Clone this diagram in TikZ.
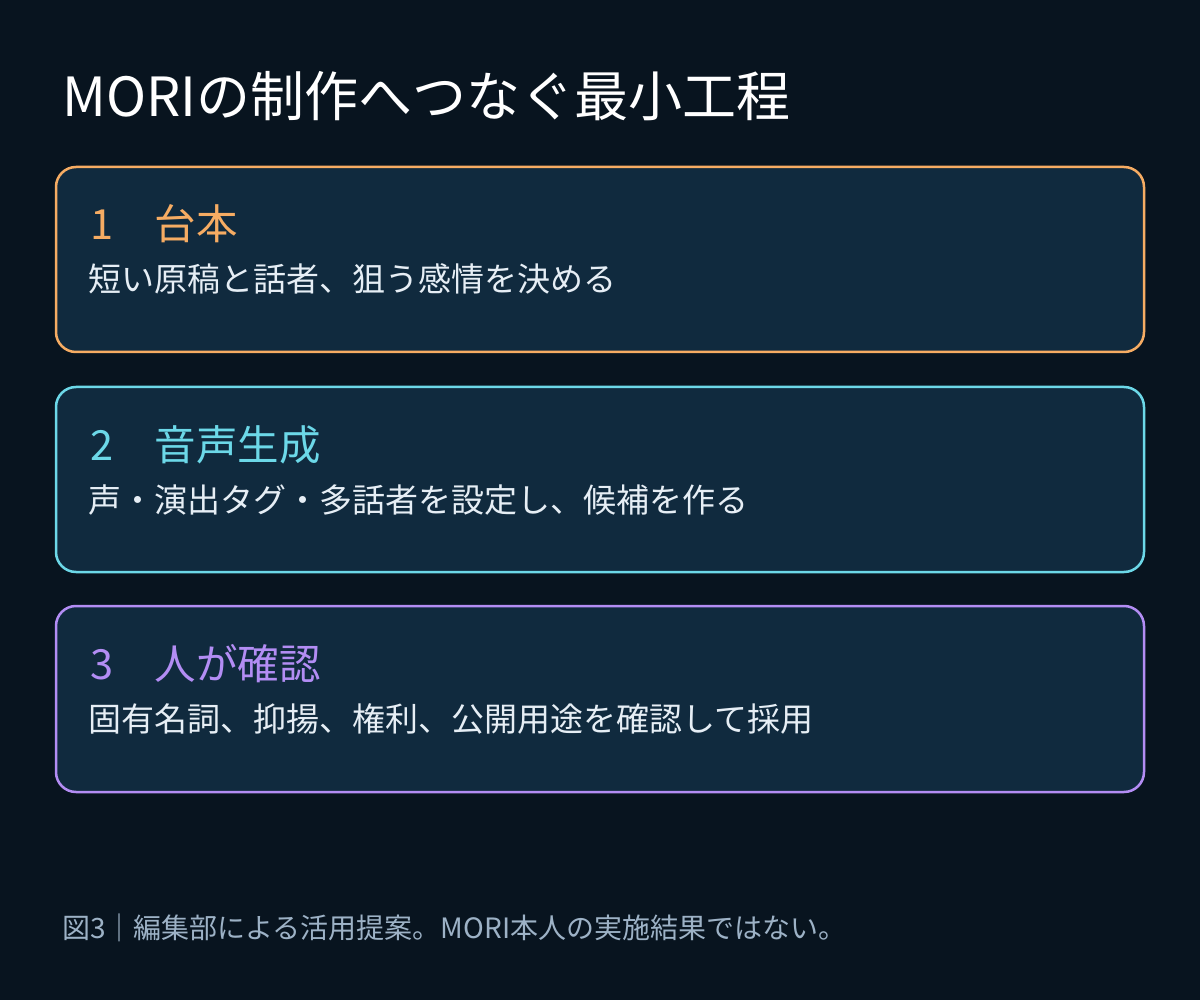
\documentclass[tikz,border=0pt]{standalone}
\usepackage{fontspec}
\setmainfont{Noto Sans CJK JP}
\definecolor{bg}{HTML}{08141F}
\definecolor{boxfill}{HTML}{102A3E}
\definecolor{corange}{HTML}{F6AC63}
\definecolor{ccyan}{HTML}{6CD8E8}
\definecolor{cpurple}{HTML}{B38DF4}
\definecolor{bodytxt}{HTML}{E6EEF5}
\definecolor{captxt}{HTML}{9DB2C6}
\begin{document}
\begin{tikzpicture}[x=1pt,y=-1pt,
  stepcard/.style={draw=#1, line width=2.5pt, fill=boxfill, rounded corners=20pt},
  steptitle/.style={anchor=base west, inner sep=0pt, text=#1, font=\fontsize{41.5}{48}\selectfont},
  stepbody/.style={anchor=base west, inner sep=0pt, text=bodytxt, font=\fontsize{33}{40}\selectfont}]
\fill[bg] (0,0) rectangle (1200,1000);
\useasboundingbox (0,0) rectangle (1200,1000);
\node[anchor=base west, inner sep=0pt, text=white, font=\fontsize{54}{60}\selectfont] (title) at (62,116.5) {MORIの制作へつなぐ最小工程};
% card 1
\draw[stepcard=corange] (56,167) rectangle (1144,352);
\node[steptitle=corange] (t1) at (90,240) {1　台本};
\node[stepbody] (b1) at (88,292) {短い原稿と話者、狙う感情を決める};
% card 2
\draw[stepcard=ccyan] (56,387) rectangle (1144,572);
\node[steptitle=ccyan] (t2) at (90,460) {2　音声生成};
\node[stepbody] (b2) at (88,512) {声・演出タグ・多話者を設定し、候補を作る};
% card 3
\draw[stepcard=cpurple] (56,606) rectangle (1144,792);
\node[steptitle=cpurple] (t3) at (90,679) {3　人が確認};
\node[stepbody] (b3) at (88,731) {固有名詞、抑揚、権利、公開用途を確認して採用};
\node[anchor=base west, inner sep=0pt, text=captxt, font=\fontsize{28}{32}\selectfont] (cap) at (62,938.5) {図3｜編集部による活用提案。MORI本人の実施結果ではない。};
\end{tikzpicture}
\end{document}
